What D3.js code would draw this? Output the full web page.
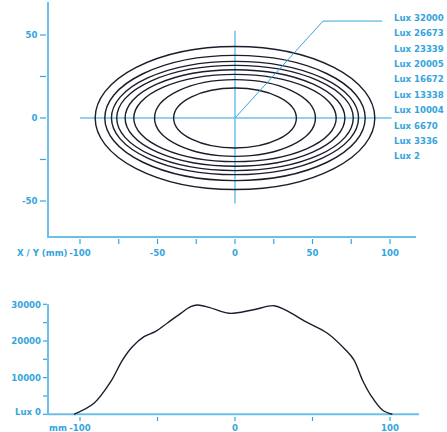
<!DOCTYPE html>
<html>
<head>
<meta charset="utf-8">
<script src="https://cdn.jsdelivr.net/npm/d3@7"></script>
<style>
  body { margin: 0; background: #fff; }
  text { font-family: "DejaVu Sans Condensed", "Liberation Sans Narrow", sans-serif; font-weight: bold; font-size: 9.5px; fill: #35a4dd; }
</style>
</head>
<body>
<svg id="chart" width="447" height="432"></svg>
<script>
// iso-lux contours (mm), outer to inner
const contourLux = [2, 3336, 6670, 10004, 13338, 16672, 20005, 23339];
const contourRx  = [90.2, 84.0, 79.7, 76.3, 70.9, 65.3, 51.9, 39.6];
const contourRy  = [43.1, 37.7, 34.1, 31.7, 29.1, 26.3, 23.1, 18.1];
const legendLabels = ['Lux 32000', 'Lux 26673', 'Lux 23339', 'Lux 20005', 'Lux 16672',
                      'Lux 13338', 'Lux 10004', 'Lux 6670', 'Lux 3336', 'Lux 2'];

// profile along the x axis
const profileMm  = [-103.9, -91, -80.2, -72.6, -66.2, -58.7, -51.2, -43.6, -35, -28.6, -24.3, -16.8,
                    -3.9, 11.2, 25.2, 32.7, 45.6, 59.6, 71.4, 76.8, 82.2, 87.5, 95.1, 101.5];
const profileLux = [0, 3000, 8890, 14800, 18430, 21160, 22630, 24900, 27540, 29340, 29800, 29180,
                    27540, 28440, 29620, 28440, 25250, 22090, 17530, 14800, 9350, 5260, 1170, 0];

const topXTicks = [-100, -75, -50, -25, 0, 25, 50, 75, 100];
const topXLabels = [-100, -50, 0, 50, 100];
const topYTicks = [-50, -25, 0, 25, 50];
const topYLabels = [-50, 0, 50];
const botXTicks = [-100, -50, 0, 50, 100];
const botXLabels = [-100, 0, 100];
const botYTicks = [0, 5000, 10000, 15000, 20000, 25000, 30000];
const botYLabels = [10000, 20000, 30000];

const leader = [[0, 0], [56.8, 58.4], [95, 58.4]];

const axisColor = '#6cc0e8';
const inkColor = '#1c1c2c';

const svg = d3.select('#chart');

const x = d3.scaleLinear().domain([-100, 100]).range([80, 390]);
const y = d3.scaleLinear().domain([-50, 50]).range([201, 35]);
const yL = d3.scaleLinear().domain([0, 30000]).range([414.3, 304.3]);

// ---- top plot ----
const topG = svg.append('g');

// axes frame
topG.append('line').attr('x1', 48).attr('x2', 48).attr('y1', 2).attr('y2', 237)
    .attr('stroke', axisColor).attr('stroke-width', 2);
topG.append('line').attr('x1', 47).attr('x2', 416).attr('y1', 237).attr('y2', 237)
    .attr('stroke', axisColor).attr('stroke-width', 2);

topG.selectAll('.yt').data(topYTicks).enter().append('line')
    .attr('x1', 40).attr('x2', 46)
    .attr('y1', d => y(d)).attr('y2', d => y(d))
    .attr('stroke', '#35a4dd').attr('stroke-width', 1.2);
topG.selectAll('.yl').data(topYLabels).enter().append('text')
    .attr('x', 37.5).attr('y', d => y(d)).attr('dy', '0.35em')
    .attr('text-anchor', 'end').text(d => d);

topG.selectAll('.xt').data(topXTicks).enter().append('line')
    .attr('x1', d => x(d)).attr('x2', d => x(d))
    .attr('y1', 239).attr('y2', 244)
    .attr('stroke', '#35a4dd').attr('stroke-width', 1.2);
topG.selectAll('.xl').data(topXLabels).enter().append('text')
    .attr('x', d => x(d)).attr('y', 253).attr('dy', '0.35em')
    .attr('text-anchor', 'middle').text(d => d);
topG.append('text').attr('x', 17).attr('y', 253).attr('dy', '0.35em').text('X / Y (mm)');

// cross hair
topG.append('line').attr('x1', x(-100)).attr('x2', x(101)).attr('y1', y(0)).attr('y2', y(0))
    .attr('stroke', axisColor).attr('stroke-width', 1.5);
topG.append('line').attr('x1', x(0)).attr('x2', x(0)).attr('y1', y(52.5)).attr('y2', y(-51.5))
    .attr('stroke', axisColor).attr('stroke-width', 1.5);

// contours
topG.selectAll('ellipse').data(contourLux).enter().append('ellipse')
    .attr('cx', x(0)).attr('cy', y(0))
    .attr('rx', (d, i) => x(contourRx[i]) - x(0))
    .attr('ry', (d, i) => y(0) - y(contourRy[i]))
    .attr('fill', 'none').attr('stroke', inkColor).attr('stroke-width', 1.4);

// leader line
topG.append('path')
    .attr('d', d3.line().x(d => x(d[0])).y(d => y(d[1]))(leader))
    .attr('fill', 'none').attr('stroke', '#35a4dd').attr('stroke-width', 1);

// legend
topG.selectAll('.lg').data(legendLabels).enter().append('text')
    .attr('x', 394).attr('y', (d, i) => 17.5 + i * 15.4).attr('dy', '0.35em')
    .text(d => d);

// ---- bottom plot ----
const botG = svg.append('g');

botG.append('line').attr('x1', 48).attr('x2', 48).attr('y1', yL(30000)).attr('y2', yL(0))
    .attr('stroke', axisColor).attr('stroke-width', 2);
botG.append('line').attr('x1', 47).attr('x2', 419).attr('y1', yL(0)).attr('y2', yL(0))
    .attr('stroke', axisColor).attr('stroke-width', 2);

botG.selectAll('.yt').data(botYTicks).enter().append('line')
    .attr('x1', 43).attr('x2', 47)
    .attr('y1', d => yL(d)).attr('y2', d => yL(d))
    .attr('stroke', '#35a4dd').attr('stroke-width', 1.2);
botG.selectAll('.yl').data(botYLabels).enter().append('text')
    .attr('x', 41).attr('y', d => yL(d)).attr('dy', '0.35em')
    .attr('text-anchor', 'end').text(d => d);
botG.append('text').attr('x', 41).attr('y', yL(0) - 3).attr('dy', '0.35em')
    .attr('text-anchor', 'end').text('Lux  0');

botG.selectAll('.xt').data(botXTicks).enter().append('line')
    .attr('x1', d => x(d)).attr('x2', d => x(d))
    .attr('y1', 417).attr('y2', 421)
    .attr('stroke', '#35a4dd').attr('stroke-width', 1.2);
botG.selectAll('.xl').data(botXLabels).enter().append('text')
    .attr('x', d => x(d)).attr('y', 428).attr('dy', '0.35em')
    .attr('text-anchor', 'middle').text(d => d);
botG.append('text').attr('x', 49).attr('y', 428).attr('dy', '0.35em').text('mm');

const profileLine = d3.line()
    .x((d, i) => x(profileMm[i]))
    .y((d, i) => yL(profileLux[i]))
    .curve(d3.curveCatmullRom.alpha(0.5));

botG.append('path')
    .attr('d', profileLine(profileMm))
    .attr('fill', 'none').attr('stroke', inkColor).attr('stroke-width', 1.4);
</script>
</body>
</html>
